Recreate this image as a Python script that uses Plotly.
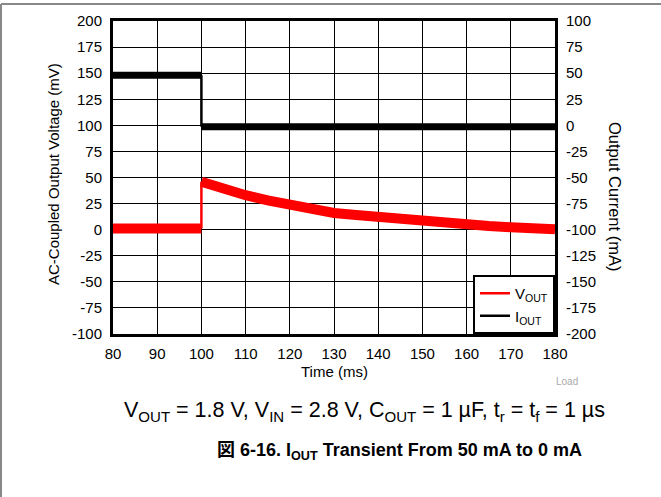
import plotly.graph_objects as go

# ---- data ----
t_pre = [80, 85, 90, 95, 100]
vout_pre = [1.0, 1.2, 0.6, 1.0, 1.2]
t_post = [100, 102, 105, 110, 115, 120, 125, 130, 135, 140, 145, 150, 155, 160, 165, 170, 175, 180]
vout_post = [46, 43, 39, 33, 28, 24, 19.5, 16, 14, 12, 9.5, 7.5, 6, 4.5, 3.5, 2.3, 1.3, 0.5]

t_iout_pre = [80, 100]
iout_pre = [48, 48]
t_iout_post = [100, 180]
iout_post = [-1.3, -1.3]

x_ticks = [80, 90, 100, 110, 120, 130, 140, 150, 160, 170, 180]
y1_ticks = [-100, -75, -50, -25, 0, 25, 50, 75, 100, 125, 150, 175, 200]
y1_labels = ["-100", "-75", "-50", "-25", "0", "25", "50", "75", "100", "125", "150", "175", "200"]
y2_ticks = [-200, -175, -150, -125, -100, -75, -50, -25, 0, 25, 50, 75, 100]
y2_labels = ["-200", "-175", "-150", "-125", "-100", "-75", "-50", "-25", "0", "25", "50", "75", "100"]

RED = "#ff0000"
BLACK = "#000000"
FONT = "Liberation Sans, Arial, sans-serif"

# plot-area pixel geometry
L, R, T, B = 113, 555, 21, 334
W, H = R - L, B - T


def px(x):
    return (x - L) / W


def py(y):
    return (B - y) / H


fig = go.Figure()

# VOUT thick noisy band segments
fig.add_trace(go.Scatter(x=t_pre, y=vout_pre, mode="lines", line=dict(color=RED, width=10),
                         showlegend=False, hoverinfo="skip"))
fig.add_trace(go.Scatter(x=t_post, y=vout_post, mode="lines", line=dict(color=RED, width=10),
                         showlegend=False, hoverinfo="skip"))
# VOUT step connector (legend entry)
fig.add_trace(go.Scatter(x=[t_pre[-1], t_post[0]], y=[vout_pre[-1], vout_post[0]], mode="lines",
                         line=dict(color=RED, width=2.5), name="V<sub>OUT</sub>", showlegend=True))

# IOUT on secondary axis
fig.add_trace(go.Scatter(x=t_iout_pre, y=iout_pre, mode="lines", line=dict(color=BLACK, width=7),
                         yaxis="y2", showlegend=False, hoverinfo="skip"))
fig.add_trace(go.Scatter(x=t_iout_post, y=iout_post, mode="lines", line=dict(color=BLACK, width=7),
                         yaxis="y2", showlegend=False, hoverinfo="skip"))
fig.add_trace(go.Scatter(x=[t_iout_pre[-1], t_iout_post[0]], y=[iout_pre[-1], iout_post[0]], mode="lines",
                         line=dict(color=BLACK, width=2.5), yaxis="y2", name="I<sub>OUT</sub>", showlegend=True))

TRANSPARENT = "rgba(0,0,0,0)"
fig.update_layout(
    width=661, height=497,
    margin=dict(l=L, r=661 - R, t=T, b=497 - B),
    paper_bgcolor="white", plot_bgcolor="white",
    font=dict(family=FONT, size=15, color="black"),
    xaxis=dict(range=[80, 180], tickvals=x_ticks, showgrid=True, gridcolor="black", gridwidth=1,
               showline=True, linecolor="black", linewidth=3, mirror=True, zeroline=False,
               ticks="outside", ticklen=4, tickcolor=TRANSPARENT, tickfont=dict(size=15)),
    yaxis=dict(range=[-100, 200], tickvals=y1_ticks, ticktext=y1_labels, showgrid=True,
               gridcolor="black", gridwidth=1,
               showline=True, linecolor="black", linewidth=3, mirror=True, zeroline=False,
               ticks="outside", ticklen=5, tickcolor=TRANSPARENT, tickfont=dict(size=15)),
    yaxis2=dict(range=[-200, 100], tickvals=y2_ticks, ticktext=y2_labels, overlaying="y", side="right",
                showgrid=False, zeroline=False, showline=False, ticks="outside", ticklen=7,
                tickcolor=TRANSPARENT, tickfont=dict(size=15)),
    legend=dict(x=1, y=0, xanchor="right", yanchor="bottom", bgcolor="white",
                bordercolor="black", borderwidth=2, font=dict(size=15),
                tracegroupgap=0, itemwidth=30),
    showlegend=True,
)

annotations = [
    dict(text="AC-Coupled Output Voltage (mV)", x=px(53), y=py(174), xref="paper", yref="paper",
         textangle=-90, showarrow=False, font=dict(size=15), xanchor="center", yanchor="middle"),
    dict(text="Output Current (mA)", x=px(615), y=py(196), xref="paper", yref="paper",
         textangle=90, showarrow=False, font=dict(size=16.5), xanchor="center", yanchor="middle"),
    dict(text="Time (ms)", x=px(334), y=py(371), xref="paper", yref="paper",
         showarrow=False, font=dict(size=15), xanchor="center", yanchor="middle"),
    dict(text="Load", x=px(567), y=py(381), xref="paper", yref="paper",
         showarrow=False, font=dict(size=10, color="#aaaaaa"), xanchor="center", yanchor="middle"),
    dict(text="V<sub>OUT</sub> = 1.8 V, V<sub>IN</sub> = 2.8 V, C<sub>OUT</sub> = 1 µF, t<sub>r</sub> = t<sub>f</sub> = 1 µs",
         x=px(364), y=py(412), xref="paper", yref="paper",
         showarrow=False, font=dict(size=21.5), xanchor="center", yanchor="middle"),
    dict(text="<b>図 6-16. I<sub>OUT</sub> Transient From 50 mA to 0 mA</b>",
         x=px(399), y=py(451), xref="paper", yref="paper",
         showarrow=False, font=dict(size=18, family="Liberation Sans, Noto Sans CJK JP, sans-serif"),
         xanchor="center", yanchor="middle"),
]
fig.update_layout(annotations=annotations)

# figure frame lines (top and left)
fig.add_shape(type="line", xref="paper", yref="paper",
              x0=px(1), x1=px(661), y0=py(4), y1=py(4),
              line=dict(color="#888888", width=2))
fig.add_shape(type="line", xref="paper", yref="paper",
              x0=px(1), x1=px(1), y0=py(4), y1=py(497),
              line=dict(color="#888888", width=2))

fig.write_html("out.html", post_script="document.body.style.margin='0px';",
               config={"displayModeBar": False})
